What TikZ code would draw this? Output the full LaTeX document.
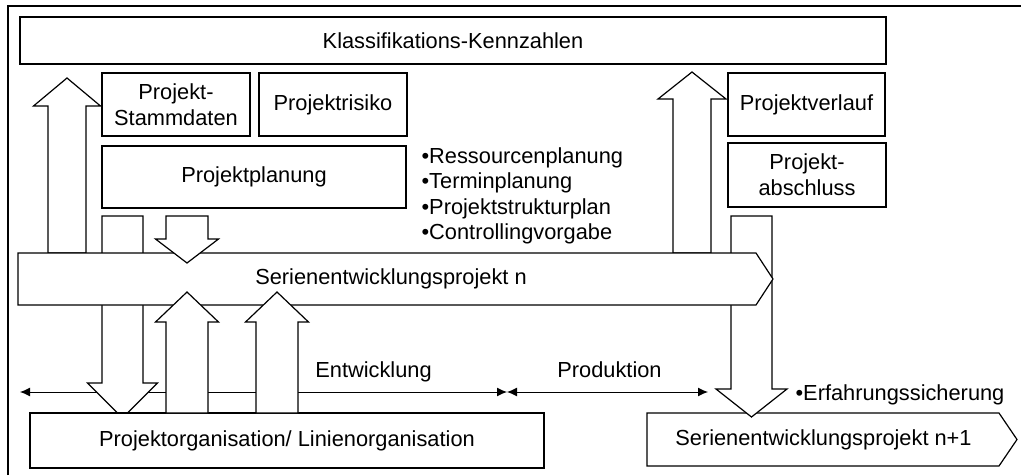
\documentclass[tikz,border=0pt]{standalone}
\usepackage{fontspec}
\setmainfont{Liberation Sans}
\usetikzlibrary{arrows.meta}

% vertical block arrow: centre x, tail y, head base y, tip y, shaft half width, head half width
\newcommand{\blockarrow}[6]{%
  \draw[blk] ({#1-#5},#2) -- ({#1-#5},#3) -- ({#1-#6},#3) -- (#1,#4)
    -- ({#1+#6},#3) -- ({#1+#5},#3) -- ({#1+#5},#2) -- cycle;}

\begin{document}
\begin{tikzpicture}[x=1pt,y=-1pt,
  line width=1.2pt,
  every node/.style={font=\fontsize{21.8}{25.6}\selectfont},
  box/.style={draw,fill=white,inner sep=0pt,align=center},
  blk/.style={draw,fill=white,line join=miter},
  label/.style={inner sep=0pt},
  phase/.style={line width=1pt,
    arrows={Latex[length=10pt,width=9pt]-Latex[length=10pt,width=9pt]}}
]
\useasboundingbox (0,0) rectangle (1021,475);

% outer frame
\draw (8,475) -- (8,6) -- (1021,6);

% upper boxes
\node[box,minimum width=866pt,minimum height=47pt] (kenn) at (453,40.5) {Klassifikations-Kennzahlen};
\node[box,minimum width=148pt,minimum height=63pt] (stamm) at (176,104.5) {Projekt-\\Stammdaten};
\node[box,minimum width=148pt,minimum height=63pt] (risiko) at (333,104.5) {Projektrisiko};
\node[box,minimum width=304pt,minimum height=62pt] (planung) at (254,177) {Projektplanung};
\node[box,minimum width=157pt,minimum height=63pt] (verlauf) at (806.5,104.5) {Projektverlauf};
\node[box,minimum width=158pt,minimum height=64pt] (abschluss) at (807,175) {Projekt-\\abschluss};

% planning items
\node[label,anchor=base west] (b1) at (421,163) {•Ressourcenplanung};
\node[label,anchor=base west] (b2) at (421,188.5) {•Terminplanung};
\node[label,anchor=base west] (b3) at (421,214) {•Projektstrukturplan};
\node[label,anchor=base west] (b4) at (421,239.5) {•Controllingvorgabe};

% feedback arrows up to the key figures
\blockarrow{67}{253}{106}{78}{19}{33.5}
\blockarrow{692}{253}{99}{72}{19}{34}

% phase timeline
\coordinate (t0) at (20,392);
\coordinate (tm) at (507,392);
\coordinate (te) at (708,392);
\draw[phase] (t0) -- (tm);
\draw[phase] (tm) -- (te);
\node[label,anchor=base] (entw) at (373.5,377) {Entwicklung};
\node[label,anchor=base] (prod) at (609.5,377) {Produktion};

% follow-up project
\draw[blk] (647,413) -- (999,413) -- (1017,439.5) -- (999,466) -- (647,466) -- cycle;
\node[label] (next) at (823.5,440) {Serienentwicklungsprojekt n+1};
\node[label,anchor=base west] (erf) at (795,400) {•Erfahrungssicherung};

% long arrows passing behind the project bar
\blockarrow{122.5}{216}{383}{418}{20.5}{35}
\blockarrow{751.5}{216}{389}{417}{20.5}{35.5}

% project bar n
\draw[blk] (18,253) -- (756,253) -- (773,279) -- (756,305) -- (18,305) -- cycle;
\node[label] (proj) at (391,279) {Serienentwicklungsprojekt n};

% line organisation
\node[box,minimum width=514pt,minimum height=55pt] (org) at (287,440.5) {Projektorganisation/ Linienorganisation};

% arrows between planning, project and organisation
\blockarrow{187}{216}{239}{263}{21}{31.5}
\blockarrow{187}{413}{322}{292}{21}{31.5}
\blockarrow{277}{413}{322}{292}{21}{31.5}

\end{tikzpicture}
\end{document}
